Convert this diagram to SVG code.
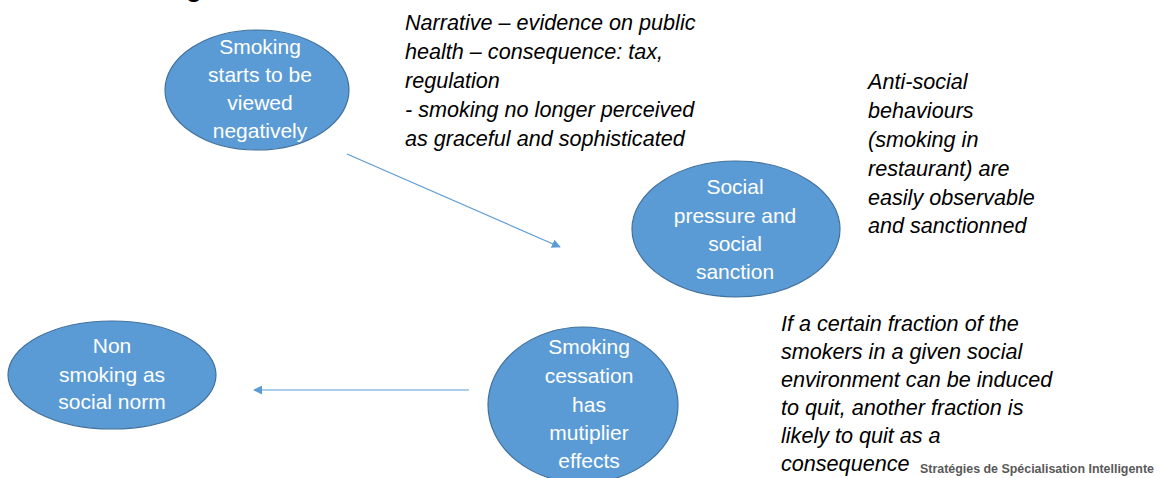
<svg xmlns="http://www.w3.org/2000/svg" width="1161" height="478" viewBox="0 0 1161 478">
<defs>
<style>
.node{fill:#5B9BD5;stroke:#41719C;stroke-width:1.2}
.nt{font-family:"Liberation Sans",Arial,sans-serif;font-size:21px;fill:#ffffff;text-anchor:middle}
.note{font-family:"Liberation Sans",Arial,sans-serif;font-style:italic;font-size:21.6px;fill:#000000}
.conn{stroke:#5B9BD5;stroke-width:1.2;fill:none;marker-end:url(#ah)}
.foot{font-family:"Liberation Sans",Arial,sans-serif;font-weight:bold;font-size:12.5px;fill:#595959}
</style>
<marker id="ah" viewBox="0 0 10 10" refX="9" refY="5" markerWidth="9" markerHeight="9" markerUnits="userSpaceOnUse" orient="auto">
<path d="M0,0 L10,5 L0,10 z" fill="#5B9BD5"/>
</marker>
</defs>
<rect width="1161" height="478" fill="#ffffff"/>
<text x="186" y="-3" style="font-family:'Liberation Sans',Arial,sans-serif;font-weight:bold;font-size:26px;fill:#000">g</text>

<g id="connectors">
<line class="conn" x1="347" y1="154" x2="560" y2="247"/>
<line class="conn" x1="469" y1="390" x2="254" y2="390"/>
</g>

<g id="node-viewed-negatively">
<ellipse class="node" cx="257" cy="90" rx="92" ry="60"/>
<text class="nt" x="260" y="54">Smoking</text>
<text class="nt" x="260" y="82">starts to be</text>
<text class="nt" x="260" y="110">viewed</text>
<text class="nt" x="260" y="138">negatively</text>
</g>

<g id="node-social-pressure">
<ellipse class="node" cx="736" cy="229" rx="104" ry="68"/>
<text class="nt" x="735" y="194">Social</text>
<text class="nt" x="735" y="223">pressure and</text>
<text class="nt" x="735" y="251">social</text>
<text class="nt" x="735" y="279">sanction</text>
</g>

<g id="node-non-smoking">
<ellipse class="node" cx="112" cy="375" rx="104" ry="54"/>
<text class="nt" x="112" y="353">Non</text>
<text class="nt" x="112" y="382">smoking as</text>
<text class="nt" x="112" y="409">social norm</text>
</g>

<g id="node-cessation">
<ellipse class="node" cx="583" cy="405" rx="95" ry="78"/>
<text class="nt" x="589" y="354">Smoking</text>
<text class="nt" x="589" y="383">cessation</text>
<text class="nt" x="589" y="412">has</text>
<text class="nt" x="589" y="440">mutiplier</text>
<text class="nt" x="589" y="468">effects</text>
</g>

<g id="note-narrative">
<text class="note" x="405" y="30">Narrative – evidence on public</text>
<text class="note" x="405" y="59">health – consequence: tax,</text>
<text class="note" x="405" y="88">regulation</text>
<text class="note" x="405" y="117">- smoking no longer perceived</text>
<text class="note" x="405" y="146">as graceful and sophisticated</text>
</g>

<g id="note-antisocial">
<text class="note" x="868" y="89">Anti-social</text>
<text class="note" x="868" y="118">behaviours</text>
<text class="note" x="868" y="147">(smoking in</text>
<text class="note" x="868" y="176">restaurant) are</text>
<text class="note" x="868" y="205">easily observable</text>
<text class="note" x="868" y="233">and sanctionned</text>
</g>

<g id="note-fraction">
<text class="note" x="781" y="331">If a certain fraction of the</text>
<text class="note" x="781" y="359">smokers in a given social</text>
<text class="note" x="781" y="387">environment can be induced</text>
<text class="note" x="781" y="415">to quit, another fraction is</text>
<text class="note" x="781" y="443">likely to quit as a</text>
<text class="note" x="781" y="471">consequence</text>
</g>

<text class="foot" x="920" y="473" textLength="234" lengthAdjust="spacingAndGlyphs">Stratégies de Spécialisation Intelligente</text>
</svg>
